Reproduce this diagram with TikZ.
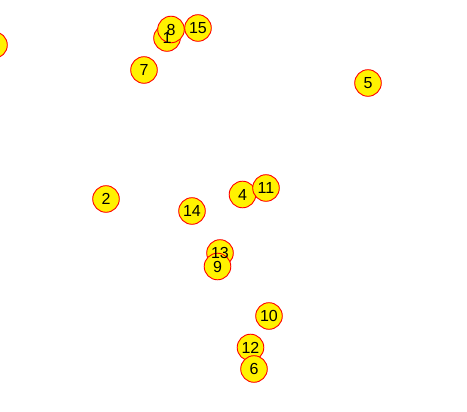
\documentclass[tikz,border=0pt]{standalone}
\usepackage{fontspec}
\setmainfont{Liberation Sans}
\begin{document}
\begin{tikzpicture}[x=1pt,y=-1pt,
  vtx/.style={circle,fill=yellow,draw=red,line width=0.9pt,minimum size=26.6pt,inner sep=0pt},
  lbl/.style={inner sep=0pt,font=\fontsize{16}{16}\selectfont,text=black}]
\useasboundingbox (0,0) rectangle (467,412);
\begin{scope}
\clip (0,0) rectangle (467,412);
\foreach \n/\x/\y in {3/-6/45, 1/167/38, 8/171/29.5, 15/198/28, 7/144/70, 5/368/83, 2/106/199, 14/192/211, 4/242.5/194.5, 11/266/188, 13/220/253, 9/217.5/266.5, 10/269/316, 12/250.5/347.5, 6/254/369}{
  \node[vtx] (v\n) at (\x,\y) {};
}
\foreach \n in {1,8,15,7,5,2,14,4,11,13,9,10,12,6}{
  \node[lbl] (t\n) at (v\n) {\n};
}
\node[lbl,anchor=east] (t3) at ([xshift=-2pt]v3.center) {3};
\end{scope}
\end{tikzpicture}
\end{document}
